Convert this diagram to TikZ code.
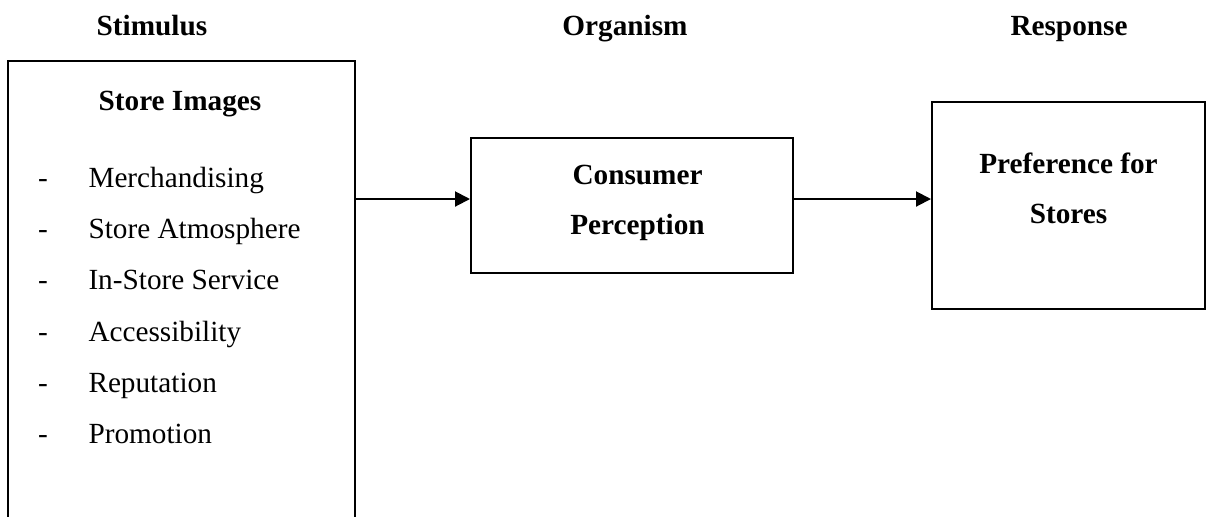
\documentclass[tikz,border=0pt]{standalone}
\usepackage{fontspec}
\setmainfont{Liberation Serif}
\usetikzlibrary{arrows.meta,positioning}
\tikzset{
  box/.style={draw, line width=0.8pt, inner sep=0pt},
  head/.style={font=\bfseries\fontsize{11.7}{20}\selectfont, inner sep=0pt, align=center},
  itemtxt/.style={font=\fontsize{11.7}{14}\selectfont, inner sep=0pt},
  arrow/.style={-{Triangle[length=6pt,width=6pt]}, line width=0.8pt}
}

\begin{document}
\begin{tikzpicture}[x=0.4pt, y=-0.4pt]
  \useasboundingbox (0,0) rectangle (1206,516);
  \clip (0,0) rectangle (1206,516);

  % column titles
  \node[head, anchor=base] (stim) at (152,35) {Stimulus};
  \node[head, anchor=base] (organ) at (625,35) {Organism};
  \node[head, anchor=base] (resp) at (1069,35) {Response};

  % boxes
  \node[box, minimum width=138.8pt, minimum height=199.6pt] (images) at (181.5,310.5) {};
  \node[box, minimum width=128.8pt, minimum height=54pt] (percep) at (632,205.5) {};
  \node[box, minimum width=109.2pt, minimum height=82.8pt] (pref) at (1068.5,205.5) {};

  % box texts
  \node[head, anchor=base] (imgtitle) at (180,110) {Store Images};
  \foreach \name [count=\i] in {Merchandising, Store Atmosphere, In-Store Service, Accessibility, Reputation, Promotion} {
    \node[itemtxt, anchor=base] (dash\i) at (43,{187.7+51.1*(\i-1)}) {-};
    \node[itemtxt, anchor=base west] (item\i) at (88,{187.7+51.1*(\i-1)}) {\name};
  }
  \node[head, anchor=north, below=11pt of percep.north, xshift=2.2pt] (perceptxt) {Consumer\\Perception};
  \node[head, anchor=north, below=20.5pt of pref.north] (preftxt) {Preference for\\Stores};

  % arrows
  \coordinate (mid) at (0,199);
  \draw[arrow] (images.east |- mid) -- (percep.west |- mid);
  \draw[arrow] (percep.east |- mid) -- (pref.west |- mid);
\end{tikzpicture}
\end{document}
